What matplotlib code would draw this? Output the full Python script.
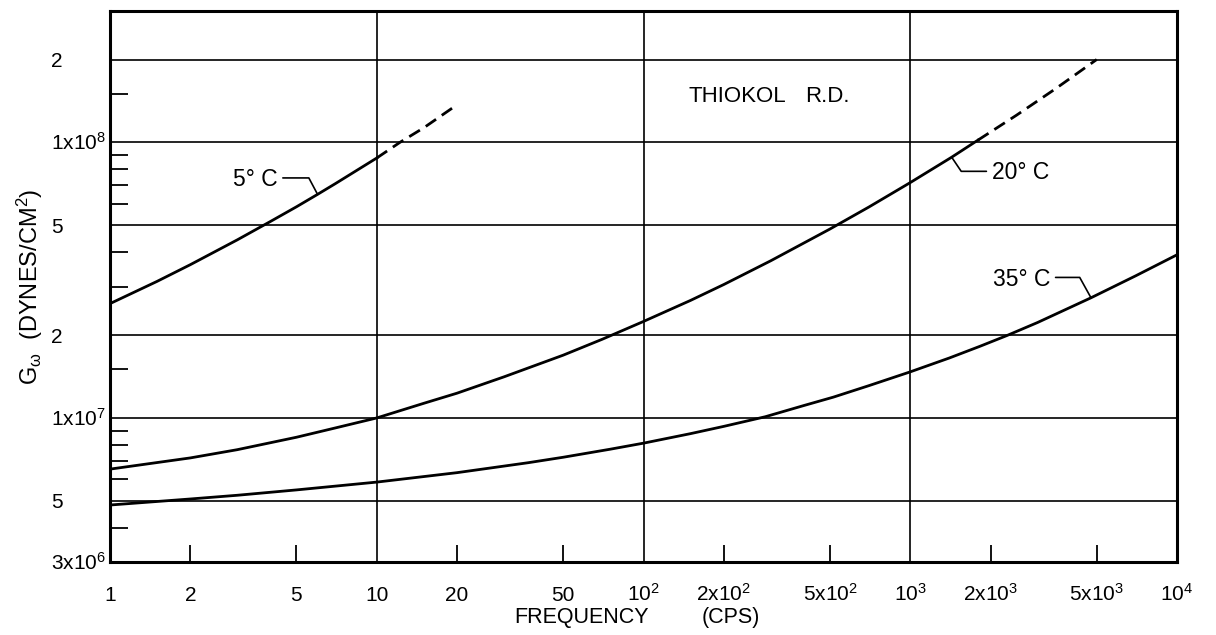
import numpy as np
import matplotlib
matplotlib.use("Agg")
import matplotlib.pyplot as plt
from matplotlib.ticker import NullFormatter, NullLocator
from matplotlib.transforms import ScaledTranslation

plt.rcParams['font.family'] = ['Liberation Sans', 'DejaVu Sans']
plt.rcParams['mathtext.fontset'] = 'custom'
plt.rcParams['mathtext.rm'] = 'Liberation Sans'
plt.rcParams['mathtext.it'] = 'Liberation Sans:italic'
plt.rcParams['mathtext.bf'] = 'Liberation Sans:bold'

# curvas (frecuencia en cps, G en dinas/cm2)
f5 = [1, 1.5, 2, 3, 4, 5, 6, 7, 10]
g5 = [2.60e7, 3.13e7, 3.60e7, 4.43e7, 5.17e7, 5.84e7, 6.48e7, 7.09e7, 8.78e7]
f5_ext = [10, 12.2, 15, 20]
g5_ext = [8.78e7, 1.0e8, 1.13e8, 1.37e8]

f20 = [1, 2, 3, 5, 7, 10, 15, 20, 30, 50, 70, 100, 150, 200, 300, 500, 700,
       1000, 1430, 1795]
g20 = [6.52e6, 7.16e6, 7.67e6, 8.51e6, 9.20e6, 1.0e7, 1.13e7, 1.23e7, 1.41e7,
       1.69e7, 1.93e7, 2.24e7, 2.67e7, 3.05e7, 3.72e7, 4.85e7, 5.83e7,
       7.15e7, 8.84e7, 1.02e8]
f20_ext = [1795, 2500, 3500, 5000]
g20_ext = [1.02e8, 1.255e8, 1.565e8, 2.0e8]

f35 = [1, 2, 3, 5, 10, 20, 37, 50, 75, 100, 150, 200, 286, 400, 515, 700,
       1000, 1400, 1825, 2300, 3000, 4760, 7000, 10000]
g35 = [4.83e6, 5.08e6, 5.24e6, 5.48e6, 5.85e6, 6.33e6, 6.88e6, 7.20e6, 7.70e6,
       8.10e6, 8.77e6, 9.32e6, 1.01e7, 1.11e7, 1.19e7, 1.31e7, 1.47e7,
       1.65e7, 1.82e7, 1.99e7, 2.22e7, 2.73e7, 3.28e7, 3.91e7]

# ejes
x_grid = [10, 100, 1000]
y_grid = [5e6, 1e7, 2e7, 5e7, 1e8, 2e8]
x_minor = [2, 5, 20, 50, 200, 500, 2000, 5000]
y_minor = [4e6, 6e6, 7e6, 8e6, 9e6, 1.5e7, 3e7, 4e7, 6e7, 7e7, 8e7, 9e7, 1.5e8]

x_lab_vals = [1, 2, 5, 10, 20, 50, 100, 200, 500, 1000, 2000, 5000, 10000]
x_lab_txt = ['1', '2', '5', '10', '20', '50', r'10$^2$', r'2x10$^2$',
             r'5x10$^2$', r'10$^3$', r'2x10$^3$', r'5x10$^3$', r'10$^4$']
y_lab_vals = [3e6, 5e6, 1e7, 2e7, 5e7, 1e8, 2e8]
y_lab_txt = [r'3x10$^6$', '5', r'1x10$^7$', '2', '5', r'1x10$^8$', '2']

fig = plt.figure(figsize=(12.16, 6.35), dpi=100)
ax = fig.add_axes([110/1216, 1-562/635, 1067/1216, 551/635])
ax.set_xscale('log')
ax.set_yscale('log')
ax.set_xlim(1, 1e4)
ax.set_ylim(3e6, 3e8)

for v in x_grid:
    ax.axvline(v, color='k', lw=1.2, zorder=1)
for v in y_grid:
    ax.axhline(v, color='k', lw=1.2, zorder=1)

lw = 2.0
dash = (0, (4.5, 2.5))
ax.plot(f5, g5, color='k', lw=lw, zorder=3)
ax.plot(f5_ext, g5_ext, color='k', lw=lw, ls=dash, zorder=3)
ax.plot(f20, g20, color='k', lw=lw, zorder=3)
ax.plot(f20_ext, g20_ext, color='k', lw=lw, ls=dash, zorder=3)
ax.plot(f35, g35, color='k', lw=lw, zorder=3)

# marcas
ax.xaxis.set_major_locator(NullLocator())
ax.yaxis.set_major_locator(NullLocator())
ax.set_xticks(x_minor, minor=True)
ax.set_yticks(y_minor, minor=True)
ax.xaxis.set_minor_formatter(NullFormatter())
ax.yaxis.set_minor_formatter(NullFormatter())
ax.tick_params(axis='x', which='minor', direction='in', length=12, width=1.3,
               bottom=True, top=False)
ax.tick_params(axis='y', which='minor', direction='in', length=13, width=1.3,
               left=True, right=False)
for s in ax.spines.values():
    s.set_linewidth(2.2)

# etiquetas de las marcas
tx = ax.get_xaxis_transform() + ScaledTranslation(0, -0.39, fig.dpi_scale_trans)
for v, t in zip(x_lab_vals, x_lab_txt):
    ax.text(v, 0, t, transform=tx, ha='center', va='baseline', fontsize=15,
            clip_on=False)
ty = ax.get_yaxis_transform() + ScaledTranslation(-0.59, -0.075, fig.dpi_scale_trans)
for v, t in zip(y_lab_vals, y_lab_txt):
    ax.text(0, v, t, transform=ty, ha='left', va='baseline', fontsize=15,
            clip_on=False)

fig.text(582/1216, 1-617/635, 'FREQUENCY', ha='center', va='center', fontsize=15.5)
fig.text(731/1216, 1-617/635, '(CPS)', ha='center', va='center', fontsize=15.5)
fig.text(30/1216, 1-287/635, r'G$_{\mathrm{\omega}}$  (DYNES/CM$^2$)', rotation=90,
         ha='center', va='center', fontsize=17)

ax.text((737 - 110)/1067, (562 - 97)/551, 'THIOKOL', transform=ax.transAxes,
        ha='center', va='center', fontsize=16)
ax.text((827 - 110)/1067, (562 - 97)/551, 'R.D.', transform=ax.transAxes,
        ha='center', va='center', fontsize=16)

# rotulos de las curvas
lead = dict(arrowstyle='-', color='k', lw=1.2, shrinkA=2, shrinkB=0)
i5 = f5.index(6)
i20 = f20.index(1430)
i35 = f35.index(4760)
ax.annotate('5° C', xy=(f5[i5], g5[i5]), xytext=(-29, 11), textcoords='offset points',
            ha='right', va='center', fontsize=16.5,
            arrowprops=dict(lead, relpos=(1, 0.55),
                            connectionstyle='angle,angleA=0,angleB=118,rad=0'))
ax.annotate('20° C', xy=(f20[i20], g20[i20]), xytext=(29, -11), textcoords='offset points',
            ha='left', va='center', fontsize=16.5,
            arrowprops=dict(lead, relpos=(0, 0.55),
                            connectionstyle='angle,angleA=0,angleB=-56,rad=0'))
ax.annotate('35° C', xy=(f35[i35], g35[i35]), xytext=(-29.5, 13), textcoords='offset points',
            ha='right', va='center', fontsize=16.5,
            arrowprops=dict(lead, relpos=(1, 0.6),
                            connectionstyle='angle,angleA=0,angleB=119,rad=0'))

fig.savefig('out.png', dpi=100)
